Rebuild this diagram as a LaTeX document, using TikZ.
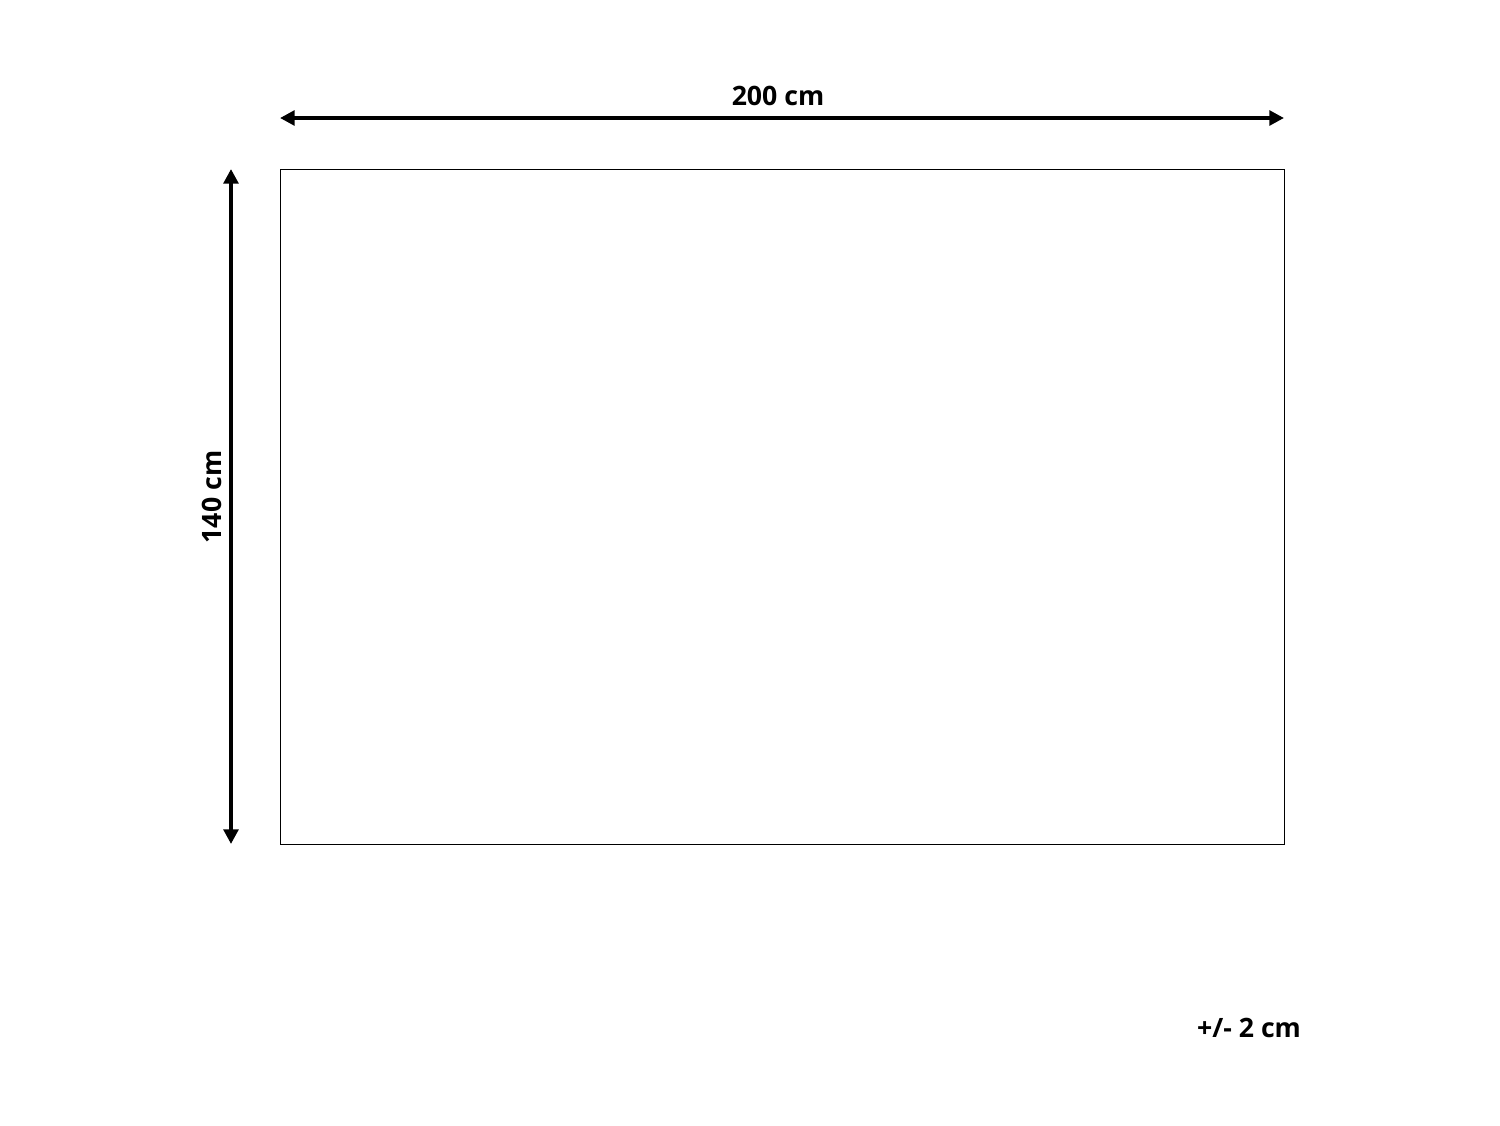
\documentclass[tikz,border=0pt]{standalone}
\usepackage{fontspec}
\setmainfont{Open Sans}
\usetikzlibrary{arrows.meta,positioning}
\tikzset{every picture/.style={line width=0.75pt}}
\tikzset{
	dimline/.style={line width=3pt, {Triangle[length=11pt,width=11pt]}-{Triangle[length=11pt,width=11pt]}},
	dimlabel/.style={font=\fontsize{20}{24}\selectfont\bfseries, inner sep=0pt}}

\begin{document}
\begin{tikzpicture}[x=0.75pt,y=0.75pt,yscale=-1,xscale=1]
	\useasboundingbox (0,0) rectangle (1500,1125);

	%Shape: Rectangle [id:rug]
	\node [draw, line width=1.1pt, minimum width=753pt, minimum height=506.25pt, inner sep=0pt, anchor=north west] (rug) at (280,169) {};

	%Straight Lines [id:width]
	\coordinate (wl) at (280,118);
	\coordinate (wr) at (1284,118);
	\draw [dimline] (wl) -- (wr);
	%Straight Lines [id:height]
	\coordinate (ht) at (231,169);
	\coordinate (hb) at (231,844);
	\draw [dimline] (ht) -- (hb);

	% Text Node
	\node [dimlabel] (wlabel) at (778,96) {200 cm};
	% Text Node
	\node [dimlabel, rotate=90] (hlabel) at (212,497) {140 cm};
	% Text Node
	\node [dimlabel] (tol) at (1249,1028) {+/- 2 cm};

\end{tikzpicture}
\end{document}
